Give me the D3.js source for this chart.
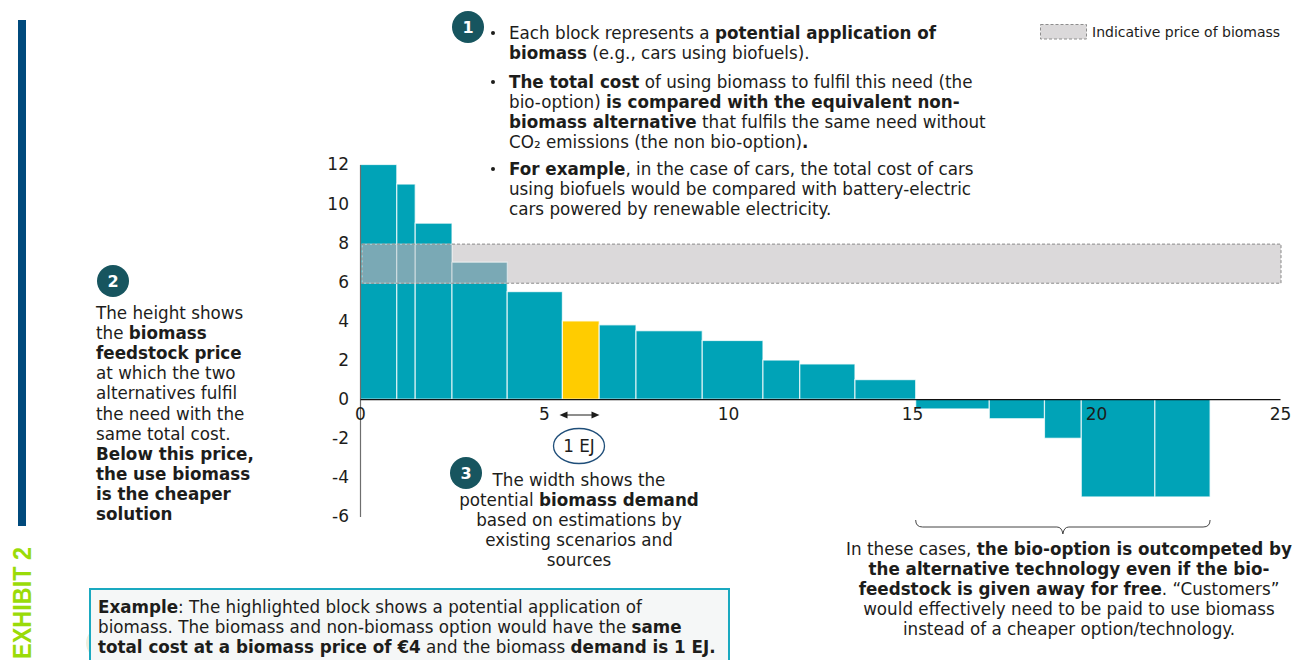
<!DOCTYPE html>
<html>
<head>
<meta charset="utf-8">
<script src="https://cdn.jsdelivr.net/npm/d3@7/dist/d3.min.js"></script>
<style>
  html, body { margin: 0; padding: 0; background: #fff; overflow: hidden; }
  svg { display: block; }
  text { font-family: "DejaVu Sans", Verdana, sans-serif; fill: #1d1d1b; }
</style>
</head>
<body>
<svg id="chart" width="1300" height="660"></svg>
<script>
// Block widths (EJ of biomass demand) and heights (break-even biomass price)
const blockWidths = [1, 0.5, 1, 1.5, 1.5, 1, 1, 1.8, 1.65, 1, 1.5, 1.65, 2, 1.5, 1, 2, 1.5];
const blockPrices = [12, 11, 9, 7, 5.5, 4, 3.8, 3.5, 3, 2, 1.8, 1, -0.5, -1, -2, -5, -5];
const highlightedBlock = 5;
const priceBand = [6, 8];
const xTicks = [0, 5, 10, 15, 20, 25];
const yTicks = [12, 10, 8, 6, 4, 2, 0, -2, -4, -6];

// Annotation copy: every line is a list of [text, isBold] runs
const note1 = [
  [["Each block represents a ", 0], ["potential application of", 1]],
  [["biomass", 1], [" (e.g., cars using biofuels).", 0]]
];
const note1b = [
  [["The total cost", 1], [" of using biomass to fulfil this need (the", 0]],
  [["bio-option) ", 0], ["is compared with the equivalent non-", 1]],
  [["biomass alternative", 1], [" that fulfils the same need without", 0]],
  [["CO₂ emissions (the non bio-option)", 0], [".", 1]]
];
const note1c = [
  [["For example", 1], [", in the case of cars, the total cost of cars", 0]],
  [["using biofuels would be compared with battery-electric", 0]],
  [["cars powered by renewable electricity.", 0]]
];
const note2 = [
  [["The height shows", 0]],
  [["the ", 0], ["biomass", 1]],
  [["feedstock price", 1]],
  [["at which the two", 0]],
  [["alternatives fulfil", 0]],
  [["the need with the", 0]],
  [["same total cost.", 0]],
  [["Below this price,", 1]],
  [["the use biomass", 1]],
  [["is the cheaper", 1]],
  [["solution", 1]]
];
const note3 = [
  [["The width shows the", 0]],
  [["potential ", 0], ["biomass demand", 1]],
  [["based on estimations by", 0]],
  [["existing scenarios and", 0]],
  [["sources", 0]]
];
const noteNegative = [
  [["In these cases, ", 0], ["the bio-option is outcompeted by", 1]],
  [["the alternative technology even if the bio-", 1]],
  [["feedstock is given away for free", 1], [". “Customers”", 0]],
  [["would effectively need to be paid to use biomass", 0]],
  [["instead of a cheaper option/technology.", 0]]
];
const noteExample = [
  [["Example", 1], [": The highlighted block shows a potential application of", 0]],
  [["biomass. The biomass and non-biomass option would have the ", 0], ["same", 1]],
  [["total cost at a biomass price of €4", 1], [" and the biomass ", 0], ["demand is 1 EJ.", 1]]
];

const TEAL = "#00a3b7", YELLOW = "#ffcc00", DARK = "#17555f";
const BODY = 16.75;
const svg = d3.select("#chart");

const x = d3.scaleLinear().domain([0, 25]).range([360, 1280]);
const y = d3.scaleLinear().domain([-6, 12]).range([516.5, 164.5]);

// Turn widths into stacked start/end positions along the demand axis
let cursor = 0;
const blocks = blockWidths.map((w, i) => {
  const b = { start: cursor, end: cursor + w, price: blockPrices[i], i };
  cursor += w;
  return b;
});

// Price band sits just inside the axis and slightly below its gridline positions
const bandLeft = 362, bandRight = x(25) + 1, bandShift = 1.4;
const bandTop = y(priceBand[1]) + bandShift, bandBottom = y(priceBand[0]) + bandShift;

svg.append("rect")
  .attr("x", bandLeft).attr("width", bandRight - bandLeft)
  .attr("y", bandTop).attr("height", bandBottom - bandTop)
  .attr("fill", "#dbd9da");

// Blocks
svg.append("g").selectAll("rect").data(blocks).join("rect")
  .attr("x", d => x(d.start))
  .attr("width", d => x(d.end) - x(d.start))
  .attr("y", d => y(Math.max(d.price, 0)))
  .attr("height", d => Math.abs(y(d.price) - y(0)))
  .attr("fill", d => d.i === highlightedBlock ? YELLOW : TEAL)
  .attr("stroke", "#fff")
  .attr("stroke-opacity", 0.75)
  .attr("stroke-width", 1.2);

// Where the band crosses a block it reads as a muted blue-grey
svg.append("g").selectAll("rect").data(blocks.filter(d => d.price > priceBand[0])).join("rect")
  .attr("x", d => Math.max(x(d.start), bandLeft))
  .attr("width", d => x(d.end) - Math.max(x(d.start), bandLeft))
  .attr("y", d => Math.max(y(d.price), bandTop))
  .attr("height", d => bandBottom - Math.max(y(d.price), bandTop))
  .attr("fill", "#7aa9b5")
  .attr("stroke", "#e4e8ea")
  .attr("stroke-opacity", 0.8)
  .attr("stroke-width", 1);

svg.append("rect")
  .attr("x", bandLeft).attr("width", bandRight - bandLeft)
  .attr("y", bandTop).attr("height", bandBottom - bandTop)
  .attr("fill", "none")
  .attr("stroke", "#8a8a8a")
  .attr("stroke-width", 1)
  .attr("stroke-dasharray", "3 2");

// Axes
const yAxis = d3.axisLeft(y).tickValues(yTicks).tickSize(0).tickPadding(11)
  .tickFormat(d => String(d));
const gy = svg.append("g").attr("transform", `translate(${x(0)},0)`).call(yAxis);
gy.select(".domain").attr("stroke", "#6e6e6e").attr("stroke-width", 1.2);
gy.selectAll("text").attr("font-size", 17).style("font-family", '"DejaVu Sans"');

const xAxis = d3.axisBottom(x).tickValues(xTicks).tickSize(0).tickPadding(9);
const gx = svg.append("g").attr("transform", `translate(0,${y(0)})`).call(xAxis);
gx.select(".domain").attr("stroke", "#111").attr("stroke-width", 1.2);
gx.selectAll("text").attr("font-size", 17).style("font-family", '"DejaVu Sans"');

// Multi-line text with bold runs
function block(lines, px, py, lh, anchor) {
  const t = svg.append("text").attr("font-size", BODY).attr("text-anchor", anchor || "start");
  lines.forEach((runs, li) => {
    runs.forEach((r, ri) => {
      const s = t.append("tspan").text(r[0]).attr("font-weight", r[1] ? 700 : 400);
      if (ri === 0) s.attr("x", px).attr("y", py + li * lh);
    });
  });
}
function bullet(px, py) {
  svg.append("circle").attr("cx", px).attr("cy", py).attr("r", 2).attr("fill", "#1d1d1b");
}
function badge(cx, cy, label) {
  svg.append("circle").attr("cx", cx).attr("cy", cy).attr("r", 16).attr("fill", DARK);
  svg.append("text").attr("x", cx).attr("y", cy + 6).attr("text-anchor", "middle")
    .attr("font-size", 16).attr("font-weight", 700).style("fill", "#fff").text(label);
}

// Note 1, top centre
badge(468, 27, "1");
bullet(493, 33); block(note1, 509, 39, 19.7);
bullet(493, 82); block(note1b, 509, 88, 20);
bullet(493, 169); block(note1c, 509, 175, 20);

// Note 2, left of the axis
badge(113, 281, "2");
block(note2, 96, 319, 20.1);

// Note 3 and the 1 EJ width marker
badge(466, 473, "3");
block(note3, 579, 486, 20, "middle");
const arrowY = 415;
svg.append("line").attr("x1", 565).attr("x2", 595).attr("y1", arrowY).attr("y2", arrowY)
  .attr("stroke", "#1d1d1b").attr("stroke-width", 1);
[[559.5, 1], [599.5, -1]].forEach(([tip, dir]) => {
  svg.append("path").attr("d", d3.line()([[tip, arrowY], [tip + dir * 8, arrowY - 3.5], [tip + dir * 8, arrowY + 3.5]]))
    .attr("fill", "#1d1d1b");
});
svg.append("ellipse").attr("cx", 579).attr("cy", 446).attr("rx", 25.5).attr("ry", 17.5)
  .attr("fill", "#fff").attr("stroke", "#1f4e79").attr("stroke-width", 1.3);
svg.append("text").attr("x", 579).attr("y", 451.5).attr("text-anchor", "middle")
  .attr("font-size", 16.75).text("1 EJ");

// Brace under the negative blocks and its note
const bx0 = x(15.1), bx1 = x(23.1), bTop = 520, bMid = 527, bTip = 534, bc = (bx0 + bx1) / 2;
svg.append("path")
  .attr("d", `M${bx0},${bTop} Q${bx0},${bMid} ${bx0 + 7},${bMid} L${bc - 6},${bMid} Q${bc - 1},${bMid} ${bc},${bTip} Q${bc + 1},${bMid} ${bc + 6},${bMid} L${bx1 - 7},${bMid} Q${bx1},${bMid} ${bx1},${bTop}`)
  .attr("fill", "none").attr("stroke", "#444").attr("stroke-width", 1);
block(noteNegative, 1069, 555, 20, "middle");

// Legend
svg.append("rect").attr("x", 1040.5).attr("y", 24.5).attr("width", 46).attr("height", 14.5)
  .attr("fill", "#dbd9da").attr("stroke", "#8d8d8d").attr("stroke-dasharray", "3 2");
svg.append("text").attr("x", 1092).attr("y", 37).attr("font-size", 14).text("Indicative price of biomass");

// Side rule and exhibit label
svg.append("rect").attr("x", 18).attr("y", 20).attr("width", 8).attr("height", 506).attr("fill", "#004a7c");
svg.append("text").attr("transform", "translate(31,659) rotate(-90)")
  .attr("font-size", 26).attr("font-weight", 700).style("font-family", '"Liberation Sans"')
  .attr("textLength", 112).attr("lengthAdjust", "spacingAndGlyphs")
  .style("fill", "#9adb08").text("EXHIBIT 2");

// Example call-out
svg.append("circle").attr("cx", 102).attr("cy", 643).attr("r", 16).attr("fill", "#eeeedd");
svg.append("rect").attr("x", 90).attr("y", 589).attr("width", 639).attr("height", 80)
  .attr("fill", "#f5f7f7").attr("stroke", "#1aa9c0").attr("stroke-width", 2);
block(noteExample, 98, 613, 20);
</script>
</body>
</html>
